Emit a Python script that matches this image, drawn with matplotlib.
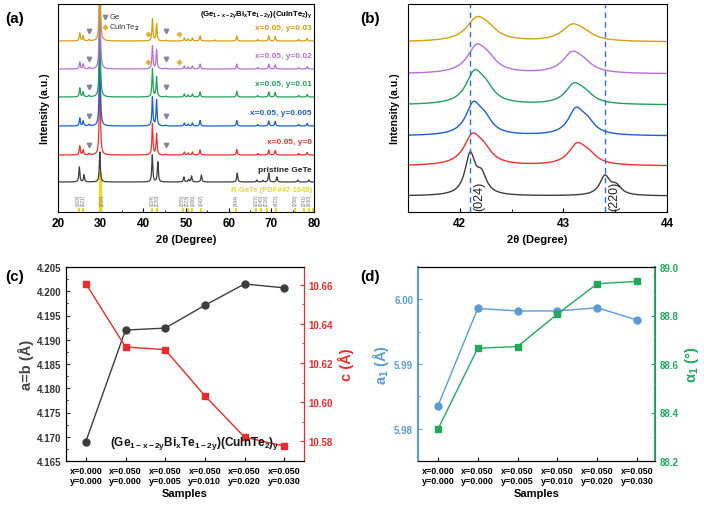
import numpy as np
import matplotlib.pyplot as plt
from matplotlib.ticker import MultipleLocator, FormatStrFormatter

plt.rcParams['font.family'] = ['Liberation Sans', 'DejaVu Sans']
plt.rcParams['font.weight'] = 'bold'
plt.rcParams['axes.labelweight'] = 'bold'
plt.rcParams['mathtext.fontset'] = 'custom'
plt.rcParams['mathtext.rm'] = 'Liberation Sans:bold'
plt.rcParams['mathtext.it'] = 'Liberation Sans:bold'
plt.rcParams['mathtext.bf'] = 'Liberation Sans:bold'
plt.rcParams['mathtext.default'] = 'bf'
plt.rcParams['xtick.direction'] = 'in'
plt.rcParams['ytick.direction'] = 'in'

# ---------------- data ----------------
sample_labels = ['pristine GeTe', 'x=0.05, y=0', 'x=0.05, y=0.005',
                 'x=0.05, y=0.01', 'x=0.05, y=0.02', 'x=0.05, y=0.03']
colors = ['#3d3d3d', '#f0302e', '#1a5fd6', '#23a05a', '#b570de', '#d4a010']

# (a) full XRD patterns: peak positions (2theta) and heights
pos_pristine = [25.0, 26.1, 29.8, 42.1, 43.4, 49.5, 50.6, 51.3, 53.6, 62.0,
                66.6, 68.0, 69.4, 71.3, 76.2, 78.8]
h_pristine = [15, 7, 30, 27, 20, 5, 2.5, 6, 7, 9, 2, 1.5, 9, 5, 2, 2]
pos_doped = [25.1, 25.9, 27.3, 29.8, 42.13, 43.1, 45.3, 49.6, 50.5, 51.5,
             53.3, 56.8, 61.9, 66.8, 69.4, 70.9, 76.4, 78.4]
h_red = [9, 5, 1.5, 95, 31, 21, 0.8, 3, 2, 3, 5, 0, 5.5, 1.5, 5, 4.5, 1.5, 2.5]
h_blue = [8, 5, 1.5, 95, 29, 26, 0.8, 3, 2, 3, 5.5, 0, 5.5, 1.5, 5, 4.5, 1.5, 2.5]
h_green = [9, 5, 1.5, 95, 28, 20, 0.8, 3, 2, 3, 5, 0, 5.5, 1.5, 5, 4.5, 1.5, 2.5]
h_purple = [7, 5, 1.5, 95, 23, 19, 0.8, 3, 2, 3, 5, 0, 5, 1.5, 5, 4, 1.5, 2.5]
h_gold = [8, 5, 1.5, 95, 22, 17, 0.8, 3, 2, 3, 5, 1, 5, 1.5, 5, 4.5, 1.5, 2.5]
offsets_a = [30, 57, 86, 115, 143, 171]

ge_marks = [27.3, 45.3]
cuinte2_marks = [41.0, 48.4]

ref_pos = [25.0, 25.9, 29.8, 42.0, 43.1, 49.4, 50.5, 51.3, 53.4, 61.8,
           66.4, 67.6, 68.9, 71.1, 75.6, 77.7, 78.9, 79.8]
ref_h = [4, 4, 40, 4, 4, 4, 4, 4, 4, 4, 4, 4, 4, 4, 4, 4, 4, 4]
ref_hkl = ['(003)', '(021)', '(202)', '(024)', '(220)', '(205)', '(223)', '(006)',
           '(042)', '(404)', '(027)', '(045)', '(226)', '(422)', '(208)',
           '(241)', '(600)', '']
ref_label_x = [24.8, 26.0, 30.4, 42.0, 43.2, 49.2, 50.4, 51.6, 53.5, 61.8,
               66.4, 67.6, 68.9, 71.1, 75.6, 77.6, 78.9, 79.8]

# (b) zoom on (024)/(220)
b_pos1 = [42.10, 42.12, 42.13, 42.14, 42.16, 42.16]
b_h1 = [40, 27, 29, 29, 24, 20]
b_pos2 = [43.40, 43.13, 43.12, 43.10, 43.08, 43.08]
b_h2 = [19, 19, 24, 18, 18, 14]
b_w = [0.12, 0.2, 0.18, 0.2, 0.22, 0.24]
offsets_b = [16, 46, 76, 107, 138, 170]

# (c), (d) lattice parameters
samples = ['x=0.000\ny=0.000', 'x=0.050\ny=0.000', 'x=0.050\ny=0.005',
           'x=0.050\ny=0.010', 'x=0.050\ny=0.020', 'x=0.050\ny=0.030']
a_b = [4.1690, 4.1920, 4.1924, 4.1971, 4.2015, 4.2007]
c_par = [10.6605, 10.6282, 10.6268, 10.6033, 10.5822, 10.5776]
a1 = [5.9835, 5.9986, 5.9982, 5.9982, 5.9987, 5.9968]
alpha1 = [88.331, 88.665, 88.672, 88.806, 88.931, 88.941]


def profile(x, pos, h, w):
    y = np.zeros_like(x)
    for p, hh in zip(pos, h):
        y += hh / (1 + ((x - p) / (w / 2)) ** 2)
    return y


fig = plt.figure(figsize=(7.04, 5.06), dpi=100)

# ---------------- (a) ----------------
ax = fig.add_axes([58/704, 1-213/506, 256/704, 208/506])
ax.vlines(ref_pos, 0, ref_h, color='#e6dc1e', lw=1.5)
ax.vlines(29.8, 0, 40, color='#e6dc1e', lw=2.5)
for lx, lab in zip(ref_label_x, ref_hkl):
    ax.text(lx, 13, lab, rotation=90, fontsize=3.5, color='#777777',
            ha='center', va='center', fontweight='normal')
ax.text(79.5, 22, 'R-GeTe (PDF#47-1049)', color='#e6dc1e', fontsize=5.5,
        ha='right', va='center')

x = np.linspace(20, 80, 8000)
all_h = [h_pristine, h_red, h_blue, h_green, h_purple, h_gold]
for i in range(6):
    if i == 0:
        y = profile(x, pos_pristine, h_pristine, 0.28)
    else:
        y = profile(x, pos_doped, all_h[i], 0.28)
    ax.plot(x, y + offsets_a[i], color=colors[i], lw=0.9)
    ax.text(79.5, offsets_a[i] + 13, sample_labels[i], color=colors[i] if i else '#222222',
            fontsize=6, ha='right', va='center')
    if i > 0:
        ax.plot(ge_marks, [offsets_a[i] + 10] * 2, 'v', color='#85859a', ms=3.2)
    if i >= 4:
        ax.plot(cuinte2_marks, [offsets_a[i] + 7] * 2, marker=(4, 1, 0),
                ls='none', color='#e0b030', ms=3.5)

ax.plot([31.0], [195], 'v', color='#85859a', ms=3.2)
ax.text(32.0, 195, 'Ge', fontsize=5.5, color='#333333', va='center', fontweight='normal')
ax.plot([31.0], [185], marker=(4, 1, 0), color='#e0b030', ms=3.5)
ax.text(32.0, 185, 'CuInTe$_2$', fontsize=5.5, color='#333333', va='center',
        fontweight='normal', math_fontfamily='dejavusans')
ax.text(79.5, 198, '(Ge$_{1-x-2y}$Bi$_x$Te$_{1-2y}$)(CuInTe$_2$)$_y$', fontsize=5.6,
        ha='right', va='center')

ax.set_xlim(20, 80)
ax.set_ylim(0, 208)
ax.set_yticks([])
ax.xaxis.set_major_locator(MultipleLocator(10))
ax.xaxis.set_minor_locator(MultipleLocator(5))
ax.tick_params(axis='x', labelsize=8.5, length=3)
ax.tick_params(axis='x', which='minor', length=1.5)
ax.set_xlabel('2θ (Degree)', fontsize=8)
ax.set_ylabel('Intensity (a.u.)', fontsize=7.5, labelpad=6)
fig.text(5/704, 1-19/506, '(a)', fontsize=11, va='center')

# ---------------- (b) ----------------
bx = fig.add_axes([408/704, 1-213/506, 259/704, 208/506])
xb = np.linspace(41.5, 44, 2000)
for i in range(6):
    pos = [b_pos1[i], b_pos1[i] + 0.11, b_pos2[i], b_pos2[i] + 0.11]
    hh = [b_h1[i], b_h1[i] * 0.45, b_h2[i], b_h2[i] * 0.45]
    yb = profile(xb, pos, hh, b_w[i])
    bx.plot(xb, yb + offsets_b[i], color=colors[i], lw=1)
bx.axvline(42.1, color='#2f6fd6', ls=(0, (4, 3)), lw=1)
bx.axvline(43.4, color='#2f6fd6', ls=(0, (4, 3)), lw=1)
bx.text(42.13, 2, '(024)', rotation=90, fontsize=9, fontweight='normal',
        ha='left', va='bottom', color='#222222')
bx.text(43.43, 2, '(220)', rotation=90, fontsize=9, fontweight='normal',
        ha='left', va='bottom', color='#222222')
bx.set_xlim(41.5, 44)
bx.set_ylim(0, 208)
bx.set_yticks([])
bx.xaxis.set_major_locator(MultipleLocator(1))
bx.xaxis.set_minor_locator(MultipleLocator(0.5))
bx.tick_params(axis='x', labelsize=8.5, length=3)
bx.tick_params(axis='x', which='minor', length=2)
bx.set_xlabel('2θ (Degree)', fontsize=8)
bx.set_ylabel('Intensity (a.u.)', fontsize=7.5, labelpad=6)
fig.text(360/704, 1-19/506, '(b)', fontsize=11, va='center')

# ---------------- (c) ----------------
pos_s = np.arange(len(samples))
cx = fig.add_axes([66/704, 1-462/506, 238/704, 194/506])
cx.plot(pos_s, a_b, '-o', color='#3d3d3d', ms=5, lw=1)
cx.set_ylim(4.165, 4.205)
cx.set_xlim(-0.5, 5.5)
cx.yaxis.set_major_locator(MultipleLocator(0.005))
cx.yaxis.set_minor_locator(MultipleLocator(0.0025))
cx.yaxis.set_major_formatter(FormatStrFormatter('%.3f'))
cx.set_xticks(pos_s)
cx.set_xticklabels(samples, fontsize=6.5, linespacing=1.2)
cx.tick_params(axis='y', labelsize=7, colors='#333333', length=3)
cx.tick_params(axis='y', which='minor', length=1.5)
cx.tick_params(axis='x', length=3)
cx.set_ylabel('a=b (Å)', fontsize=10.5, color='#444444', labelpad=2)
cx.set_xlabel('Samples', fontsize=8, labelpad=2)
cx2 = cx.twinx()
cx2.plot(pos_s, c_par, '-s', color='#ee2a2a', ms=4.5, lw=1)
cx2.set_ylim(10.570, 10.669)
cx2.yaxis.set_major_locator(MultipleLocator(0.02))
cx2.yaxis.set_minor_locator(MultipleLocator(0.01))
cx2.yaxis.set_major_formatter(FormatStrFormatter('%.2f'))
cx2.tick_params(axis='y', which='both', colors='#ee2a2a', labelsize=7, length=3)
cx2.tick_params(axis='y', which='minor', length=1.5)
cx2.spines['right'].set_color('#ee2a2a')
cx2.set_ylabel('c (Å)', fontsize=10.5, color='#ee2a2a', labelpad=3)
cx2.text(2.75, 10.5795, '(Ge$_{1-x-2y}$Bi$_x$Te$_{1-2y}$)(CuInTe$_2$)$_y$', fontsize=8.5,
         ha='center', va='center', color='#111111')
fig.text(5/704, 1-277/506, '(c)', fontsize=11, va='center')

# ---------------- (d) ----------------
dx = fig.add_axes([418/704, 1-462/506, 237/704, 194/506])
dx.plot(pos_s, a1, '-o', color='#5b9bd5', ms=5, lw=1)
dx.set_ylim(5.975, 6.005)
dx.set_xlim(-0.5, 5.45)
dx.yaxis.set_major_locator(MultipleLocator(0.01))
dx.yaxis.set_minor_locator(MultipleLocator(0.005))
dx.yaxis.set_major_formatter(FormatStrFormatter('%.2f'))
dx.set_xticks(pos_s)
dx.set_xticklabels(samples, fontsize=6.5, linespacing=1.2)
dx.tick_params(axis='y', which='both', colors='#5b9bd5', labelsize=7, length=3)
dx.tick_params(axis='y', which='minor', length=1.5)
dx.tick_params(axis='x', length=3)
dx.spines['left'].set_color('#5b9bd5')
dx.spines['left'].set_linewidth(1.3)
dx.set_ylabel('a$_1$ (Å)', fontsize=10.5, color='#5b9bd5', labelpad=2)
dx.set_xlabel('Samples', fontsize=8, labelpad=2)
dx2 = dx.twinx()
dx2.plot(pos_s, alpha1, '-s', color='#22a85a', ms=4.5, lw=1)
dx2.set_ylim(88.2, 89.0)
dx2.yaxis.set_major_locator(MultipleLocator(0.2))
dx2.yaxis.set_minor_locator(MultipleLocator(0.1))
dx2.yaxis.set_major_formatter(FormatStrFormatter('%.1f'))
dx2.tick_params(axis='y', which='both', colors='#22a85a', labelsize=7, length=3)
dx2.tick_params(axis='y', which='minor', length=1.5)
dx2.spines['right'].set_color('#22a85a')
dx2.spines['right'].set_linewidth(1.3)
dx2.spines['left'].set_color('#5b9bd5')
dx2.spines['left'].set_linewidth(1.3)
dx2.set_ylabel('α$_1$ (°)', fontsize=10.5, color='#22a85a', labelpad=3)
fig.text(360/704, 1-277/506, '(d)', fontsize=11, va='center')

fig.savefig('out.png', dpi=100)
